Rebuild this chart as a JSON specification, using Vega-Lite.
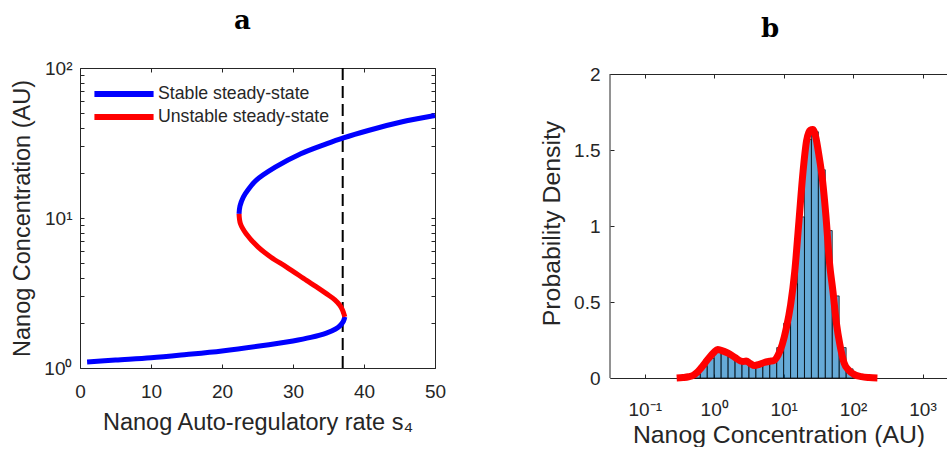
{
  "$schema": "https://vega.github.io/schema/vega-lite/v6.json",
  "autosize": {"type": "pad"},
  "padding": {"left": 10, "top": 8, "right": 0, "bottom": 0},
  "background": "white",
  "config": {
    "view": {"stroke": null},
    "font": "Liberation Sans",
    "axis": {
      "grid": false,
      "domain": true,
      "ticks": true,
      "domainColor": "#262626",
      "domainWidth": 1,
      "tickColor": "#262626",
      "tickWidth": 1,
      "tickSize": -4,
      "labelColor": "#262626",
      "labelFont": "Liberation Sans",
      "labelFontSize": 19,
      "titleColor": "#262626",
      "titleFont": "Liberation Sans",
      "titleFontWeight": "normal",
      "labelFlush": false,
      "labelOverlap": false,
      "labelBound": false,
      "minExtent": 0
    },
    "axisQuantitative": {"domain": true, "ticks": true, "grid": false}
  },
  "datasets": {
    "stable": [
      {"seg": "lower", "branch": "Stable steady-state", "s": 1.0, "conc": 1.096},
      {"seg": "lower", "branch": "Stable steady-state", "s": 5.0, "conc": 1.13},
      {"seg": "lower", "branch": "Stable steady-state", "s": 10.0, "conc": 1.17},
      {"seg": "lower", "branch": "Stable steady-state", "s": 15.0, "conc": 1.23},
      {"seg": "lower", "branch": "Stable steady-state", "s": 20.0, "conc": 1.30},
      {"seg": "lower", "branch": "Stable steady-state", "s": 25.0, "conc": 1.395},
      {"seg": "lower", "branch": "Stable steady-state", "s": 30.0, "conc": 1.515},
      {"seg": "lower", "branch": "Stable steady-state", "s": 32.5, "conc": 1.60},
      {"seg": "lower", "branch": "Stable steady-state", "s": 34.7, "conc": 1.71},
      {"seg": "lower", "branch": "Stable steady-state", "s": 36.0, "conc": 1.82},
      {"seg": "lower", "branch": "Stable steady-state", "s": 36.6, "conc": 1.91},
      {"seg": "lower", "branch": "Stable steady-state", "s": 37.1, "conc": 2.05},
      {"seg": "lower", "branch": "Stable steady-state", "s": 37.3, "conc": 2.19},
      {"seg": "upper", "branch": "Stable steady-state", "s": 22.4, "conc": 10.66},
      {"seg": "upper", "branch": "Stable steady-state", "s": 22.53, "conc": 12.0},
      {"seg": "upper", "branch": "Stable steady-state", "s": 23.0, "conc": 13.8},
      {"seg": "upper", "branch": "Stable steady-state", "s": 23.7, "conc": 15.5},
      {"seg": "upper", "branch": "Stable steady-state", "s": 24.8, "conc": 17.8},
      {"seg": "upper", "branch": "Stable steady-state", "s": 27.5, "conc": 21.8},
      {"seg": "upper", "branch": "Stable steady-state", "s": 31.1, "conc": 26.8},
      {"seg": "upper", "branch": "Stable steady-state", "s": 34.7, "conc": 31.2},
      {"seg": "upper", "branch": "Stable steady-state", "s": 37.1, "conc": 34.2},
      {"seg": "upper", "branch": "Stable steady-state", "s": 40.6, "conc": 38.3},
      {"seg": "upper", "branch": "Stable steady-state", "s": 45.1, "conc": 43.5},
      {"seg": "upper", "branch": "Stable steady-state", "s": 50.0, "conc": 48.2}
    ],
    "unstable": [
      {"seg": "middle", "branch": "Unstable steady-state", "s": 37.3, "conc": 2.19},
      {"seg": "middle", "branch": "Unstable steady-state", "s": 37.0, "conc": 2.42},
      {"seg": "middle", "branch": "Unstable steady-state", "s": 36.6, "conc": 2.62},
      {"seg": "middle", "branch": "Unstable steady-state", "s": 35.9, "conc": 2.85},
      {"seg": "middle", "branch": "Unstable steady-state", "s": 34.7, "conc": 3.13},
      {"seg": "middle", "branch": "Unstable steady-state", "s": 33.2, "conc": 3.5},
      {"seg": "middle", "branch": "Unstable steady-state", "s": 31.9, "conc": 3.84},
      {"seg": "middle", "branch": "Unstable steady-state", "s": 29.1, "conc": 4.71},
      {"seg": "middle", "branch": "Unstable steady-state", "s": 26.9, "conc": 5.48},
      {"seg": "middle", "branch": "Unstable steady-state", "s": 25.1, "conc": 6.40},
      {"seg": "middle", "branch": "Unstable steady-state", "s": 23.4, "conc": 7.85},
      {"seg": "middle", "branch": "Unstable steady-state", "s": 22.6, "conc": 9.15},
      {"seg": "middle", "branch": "Unstable steady-state", "s": 22.4, "conc": 10.66}
    ],
    "threshold": [{"s": 37}],
    "frame": [{"edge": 0.031623, "bottom": 0, "top": 2}],
    "histogram": [
      {"lo": 0.5012, "hi": 0.6310, "density": 0.025},
      {"lo": 0.6310, "hi": 0.7943, "density": 0.075},
      {"lo": 0.7943, "hi": 1.0, "density": 0.13},
      {"lo": 1.0, "hi": 1.2589, "density": 0.175},
      {"lo": 1.2589, "hi": 1.5849, "density": 0.165},
      {"lo": 1.5849, "hi": 1.9953, "density": 0.14},
      {"lo": 1.9953, "hi": 2.5119, "density": 0.115},
      {"lo": 2.5119, "hi": 3.1623, "density": 0.10},
      {"lo": 3.1623, "hi": 3.9811, "density": 0.08},
      {"lo": 3.9811, "hi": 5.0119, "density": 0.09},
      {"lo": 5.0119, "hi": 6.3096, "density": 0.10},
      {"lo": 6.3096, "hi": 7.9433, "density": 0.11},
      {"lo": 7.9433, "hi": 10.0, "density": 0.20},
      {"lo": 10.0, "hi": 12.589, "density": 0.36},
      {"lo": 12.589, "hi": 15.849, "density": 0.62},
      {"lo": 15.849, "hi": 19.953, "density": 1.06},
      {"lo": 19.953, "hi": 25.119, "density": 1.57},
      {"lo": 25.119, "hi": 31.623, "density": 1.62},
      {"lo": 31.623, "hi": 39.811, "density": 1.37},
      {"lo": 39.811, "hi": 50.119, "density": 0.97},
      {"lo": 50.119, "hi": 63.096, "density": 0.54},
      {"lo": 63.096, "hi": 79.433, "density": 0.20},
      {"lo": 79.433, "hi": 100.0, "density": 0.06}
    ],
    "kde": [
      {"conc": 0.2884, "density": 0.0},
      {"conc": 0.3548, "density": 0.003},
      {"conc": 0.4266, "density": 0.008},
      {"conc": 0.5012, "density": 0.018},
      {"conc": 0.5623, "density": 0.035},
      {"conc": 0.6457, "density": 0.065},
      {"conc": 0.7413, "density": 0.10},
      {"conc": 0.8511, "density": 0.135},
      {"conc": 1.0, "density": 0.17},
      {"conc": 1.122, "density": 0.188},
      {"conc": 1.259, "density": 0.182},
      {"conc": 1.585, "density": 0.163},
      {"conc": 1.995, "density": 0.135},
      {"conc": 2.399, "density": 0.112},
      {"conc": 2.630, "density": 0.108},
      {"conc": 2.884, "density": 0.112},
      {"conc": 3.311, "density": 0.095},
      {"conc": 3.802, "density": 0.082},
      {"conc": 4.467, "density": 0.09},
      {"conc": 5.248, "density": 0.102},
      {"conc": 6.310, "density": 0.11},
      {"conc": 7.244, "density": 0.115},
      {"conc": 8.318, "density": 0.15},
      {"conc": 9.550, "density": 0.22},
      {"conc": 10.96, "density": 0.33},
      {"conc": 12.59, "density": 0.48},
      {"conc": 14.45, "density": 0.70},
      {"conc": 16.60, "density": 1.03},
      {"conc": 19.05, "density": 1.36},
      {"conc": 21.38, "density": 1.56},
      {"conc": 23.99, "density": 1.63},
      {"conc": 26.30, "density": 1.635},
      {"conc": 28.84, "density": 1.59},
      {"conc": 32.36, "density": 1.46},
      {"conc": 36.31, "density": 1.30},
      {"conc": 40.74, "density": 1.06},
      {"conc": 45.71, "density": 0.76},
      {"conc": 51.29, "density": 0.57},
      {"conc": 57.54, "density": 0.36},
      {"conc": 64.57, "density": 0.22},
      {"conc": 74.13, "density": 0.10},
      {"conc": 87.10, "density": 0.05},
      {"conc": 104.7, "density": 0.022},
      {"conc": 131.8, "density": 0.009},
      {"conc": 169.8, "density": 0.003},
      {"conc": 223.9, "density": 0.0}
    ]
  },
  "spacing": 93,
  "hconcat": [
    {
      "width": 355,
      "height": 300,
      "title": {"text": "a", "font": "DejaVu Serif", "fontSize": 26, "fontWeight": "bold", "color": "#000000", "anchor": "middle", "frame": "group", "baseline": "alphabetic", "offset": 4, "dx": -15},
      "layer": [
        {
          "data": {"name": "threshold"},
          "mark": {"type": "rule", "color": "#000000", "strokeWidth": 2, "strokeDash": [12, 6]},
          "encoding": {
            "x": {"field": "s", "type": "quantitative", "axis": null}
          }
        },
        {
          "data": {"name": "stable"},
          "mark": {"type": "line", "strokeWidth": 5, "interpolate": "catmull-rom"},
          "encoding": {
            "x": {
              "field": "s", "type": "quantitative",
              "scale": {"domain": [0, 50]},
              "axis": {"orient": "bottom", "domain": true, "values": [0, 10, 20, 30, 40, 50], "title": "Nanog Auto-regulatory rate s₄", "titleFontSize": 23.5, "labelPadding": 18, "titlePadding": 9}
            },
            "y": {
              "field": "conc", "type": "quantitative",
              "scale": {"type": "log", "domain": [1, 100]},
              "axis": {
                "orient": "left", "domain": true,
                "values": [1, 2, 3, 4, 5, 6, 7, 8, 9, 10, 20, 30, 40, 50, 60, 70, 80, 90, 100],
                "labelExpr": "datum.value == 1 ? '10⁰' : datum.value == 10 ? '10¹' : datum.value == 100 ? '10²' : ''",
                "title": "Nanog Concentration (AU)", "titleFontSize": 23.5, "labelPadding": 12, "titlePadding": 9
              }
            },
            "color": {
              "field": "branch", "type": "nominal",
              "scale": {"domain": ["Stable steady-state", "Unstable steady-state"], "range": ["#0000FF", "#FF0000"]},
              "legend": {
                "title": null, "orient": "none", "legendX": 35, "legendY": 17, "direction": "vertical",
                "symbolType": "M-5,0H5", "symbolSize": 140, "symbolStrokeWidth": 6,
                "labelFont": "Liberation Sans", "labelFontSize": 17.7, "labelColor": "#262626", "labelLimit": 300,
                "labelOffset": 25, "rowPadding": -1, "padding": 0
              }
            },
            "detail": {"field": "seg", "type": "nominal"},
            "order": {"field": "conc", "type": "quantitative"}
          }
        },
        {
          "data": {"name": "unstable"},
          "mark": {"type": "line", "strokeWidth": 5, "interpolate": "catmull-rom"},
          "encoding": {
            "x": {
              "field": "s", "type": "quantitative",
              "axis": {"orient": "top", "domain": true, "values": [0, 10, 20, 30, 40, 50], "labels": false, "title": null}
            },
            "y": {
              "field": "conc", "type": "quantitative",
              "axis": {"orient": "right", "domain": true, "values": [1, 2, 3, 4, 5, 6, 7, 8, 9, 10, 20, 30, 40, 50, 60, 70, 80, 90, 100], "labels": false, "title": null}
            },
            "color": {"field": "branch", "type": "nominal"},
            "order": {"field": "conc", "type": "quantitative"}
          }
        }
      ],
      "resolve": {"axis": {"x": "independent", "y": "independent"}}
    },
    {
      "width": 337,
      "height": 310,
      "title": {"text": "b", "font": "DejaVu Serif", "fontSize": 26, "fontWeight": "bold", "color": "#000000", "anchor": "middle", "frame": "group", "baseline": "alphabetic", "offset": 2, "dx": -8.5},
      "layer": [
        {
          "data": {"name": "histogram"},
          "mark": {"type": "rect", "fill": "#0072BD", "fillOpacity": 0.6, "stroke": "#000000", "strokeWidth": 0.7},
          "encoding": {
            "x": {
              "field": "lo", "type": "quantitative",
              "scale": {"type": "log", "domain": [0.031623, 2250], "nice": false},
              "axis": {
                "orient": "bottom", "domain": true, "values": [0.1, 1, 10, 100, 1000],
                "labelExpr": "datum.value < 0.5 ? '10⁻¹' : datum.value < 5 ? '10⁰' : datum.value < 50 ? '10¹' : datum.value < 500 ? '10²' : '10³'",
                "title": "Nanog Concentration (AU)", "titleFontSize": 24.8, "labelPadding": 26.6, "titlePadding": 2.4
              }
            },
            "x2": {"field": "hi"},
            "y": {
              "field": "density", "type": "quantitative",
              "scale": {"domain": [0, 2.0395], "nice": false, "zero": true},
              "axis": {"orient": "left", "domain": false, "values": [0, 0.5, 1, 1.5, 2], "format": "~g", "title": "Probability Density", "titleFontSize": 24.8, "labelPadding": 14, "titlePadding": 9}
            },
            "y2": {"datum": 0}
          }
        },
        {
          "data": {"name": "kde"},
          "mark": {"type": "line", "color": "#FF0000", "strokeWidth": 7, "interpolate": "monotone"},
          "encoding": {
            "x": {
              "field": "conc", "type": "quantitative",
              "axis": {"orient": "top", "domain": true, "values": [0.1, 1, 10, 100, 1000], "labels": false, "title": null, "offset": -6}
            },
            "y": {"field": "density", "type": "quantitative"}
          }
        },
        {
          "data": {"name": "frame"},
          "mark": {"type": "rule", "color": "#262626", "strokeWidth": 1, "clip": false},
          "encoding": {
            "x": {"field": "edge", "type": "quantitative", "axis": null},
            "y": {"field": "bottom", "type": "quantitative"},
            "y2": {"field": "top"}
          }
        }
      ],
      "resolve": {"axis": {"x": "independent"}}
    }
  ]
}
